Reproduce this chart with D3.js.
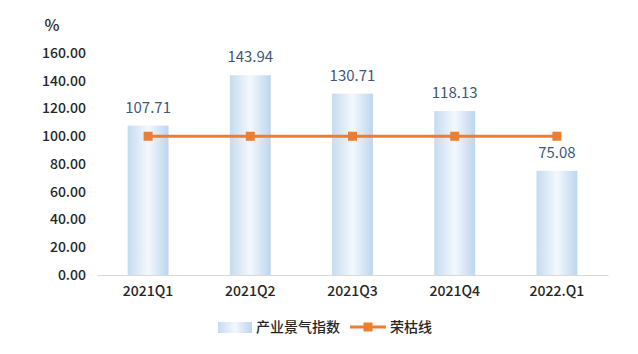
<!DOCTYPE html>
<html>
<head>
<meta charset="utf-8">
<script src="https://cdn.jsdelivr.net/npm/d3@7"></script>
<style>
  body { margin: 0; background: #fff; }
  text { font-family: "Noto Sans CJK SC", "Noto Sans", sans-serif; }
</style>
</head>
<body>
<div id="chart"></div>
<script>
// chart data
var quarters = ["2021Q1", "2021Q2", "2021Q3", "2021Q4", "2022.Q1"];
var indexValues = [107.71, 143.94, 130.71, 118.13, 75.08];
var boomLine = [100, 100, 100, 100, 100];
var yTicks = [0, 20, 40, 60, 80, 100, 120, 140, 160];
var seriesNames = ["产业景气指数", "荣枯线"];

var width = 638, height = 354;
var margin = {left: 97, right: 30, top: 53, bottom: 79};
var innerW = width - margin.left - margin.right;
var innerH = height - margin.top - margin.bottom;

var svg = d3.select("#chart").append("svg")
    .attr("width", width)
    .attr("height", height);

// horizontal gradient for the bars
var defs = svg.append("defs");
var grad = defs.append("linearGradient")
    .attr("id", "barGrad")
    .attr("x1", "0%").attr("x2", "100%")
    .attr("y1", "0%").attr("y2", "0%");
grad.append("stop").attr("offset", "0%").attr("stop-color", "#c6dbf0");
grad.append("stop").attr("offset", "50%").attr("stop-color", "#f3f8fd");
grad.append("stop").attr("offset", "100%").attr("stop-color", "#bdd5ee");

var chart = svg.append("g")
    .attr("transform", "translate(" + margin.left + "," + margin.top + ")");

var x = d3.scaleBand()
    .domain(quarters)
    .range([0, innerW])
    .paddingInner(0.6)
    .paddingOuter(0.3);

var y = d3.scaleLinear()
    .domain([0, 160])
    .range([innerH, 0]);

// y axis labels only (no line)
var yAxis = d3.axisLeft(y)
    .tickValues(yTicks)
    .tickFormat(d3.format(".2f"))
    .tickSize(0)
    .tickPadding(11);
var yg = chart.append("g").call(yAxis);
yg.select(".domain").remove();
yg.selectAll("text")
    .attr("fill", "#262626")
    .style("font-family", "'Noto Sans CJK SC', sans-serif")
    .style("font-size", "14px")
    .style("font-weight", "500");

// bars
chart.append("g").selectAll("rect")
    .data(indexValues)
    .enter()
    .append("rect")
    .attr("x", function(d, i) { return x(quarters[i]); })
    .attr("y", function(d) { return y(d); })
    .attr("width", x.bandwidth())
    .attr("height", function(d) { return innerH - y(d); })
    .attr("fill", "url(#barGrad)");

// x axis
var xAxis = d3.axisBottom(x).tickSize(0).tickPadding(11);
var xg = chart.append("g")
    .attr("transform", "translate(0," + innerH + ")")
    .call(xAxis);
xg.select(".domain").attr("stroke", "#d9d9d9");
xg.selectAll("text")
    .attr("fill", "#262626")
    .style("font-family", "'Noto Sans CJK SC', sans-serif")
    .style("font-size", "14px")
    .style("font-weight", "500");

// value labels
chart.append("g").selectAll("text")
    .data(indexValues)
    .enter()
    .append("text")
    .attr("x", function(d, i) { return x(quarters[i]) + x.bandwidth() / 2; })
    .attr("y", function(d) { return y(d) - 13; })
    .attr("text-anchor", "middle")
    .attr("fill", "#3f5878")
    .style("font-size", "15px")
    .text(function(d) { return d.toFixed(2); });

// boom/bust line
var line = d3.line()
    .x(function(d, i) { return x(quarters[i]) + x.bandwidth() / 2; })
    .y(function(d) { return y(d); });

chart.append("path")
    .datum(boomLine)
    .attr("d", line)
    .attr("fill", "none")
    .attr("stroke", "#ed7d31")
    .attr("stroke-width", 3);

chart.append("g").selectAll("rect")
    .data(boomLine)
    .enter()
    .append("rect")
    .attr("x", function(d, i) { return x(quarters[i]) + x.bandwidth() / 2 - 4.5; })
    .attr("y", function(d) { return y(d) - 4.5; })
    .attr("width", 9)
    .attr("height", 9)
    .attr("fill", "#ed7d31");

// unit
svg.append("text")
    .attr("x", 52)
    .attr("y", 31)
    .attr("text-anchor", "middle")
    .attr("fill", "#262626")
    .style("font-size", "16px")
    .style("font-weight", "500")
    .text("%");

// legend
var legend = svg.append("g").attr("transform", "translate(0,327)");
legend.append("rect")
    .attr("x", 218).attr("y", -5)
    .attr("width", 34).attr("height", 11)
    .attr("fill", "url(#barGrad)");
legend.append("text")
    .attr("x", 256).attr("y", 5)
    .attr("fill", "#262626")
    .style("font-size", "14px")
    .style("font-weight", "500")
    .text(seriesNames[0]);
legend.append("line")
    .attr("x1", 350).attr("x2", 386)
    .attr("y1", 0).attr("y2", 0)
    .attr("stroke", "#ed7d31")
    .attr("stroke-width", 3);
legend.append("rect")
    .attr("x", 363.5).attr("y", -4.5)
    .attr("width", 9).attr("height", 9)
    .attr("fill", "#ed7d31");
legend.append("text")
    .attr("x", 390).attr("y", 5)
    .attr("fill", "#262626")
    .style("font-size", "14px")
    .style("font-weight", "500")
    .text(seriesNames[1]);
</script>
</body>
</html>
